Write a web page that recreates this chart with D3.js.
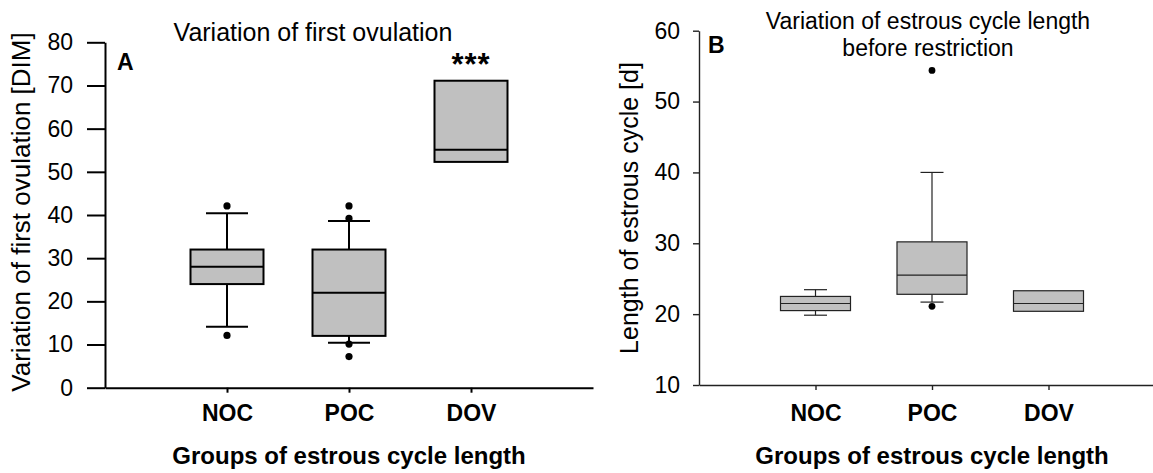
<!DOCTYPE html>
<html>
<head>
<meta charset="utf-8">
<script src="https://cdn.jsdelivr.net/npm/d3@7"></script>
<style>
    body { margin: 0; background: #fff; }
    svg text { font-family: Arial, "Liberation Sans", sans-serif; fill: #000; }
</style>
</head>
<body>
<div id="chart"></div>
<script>

// groups on the x axis (both panels)
const groups = ["NOC", "POC", "DOV"];

// panel A - variation of first ovulation [DIM]
const ovuQ1 = [24.0, 12.0, 52.3];
const ovuMedian = [28.0, 22.0, 55.1];
const ovuQ3 = [32.0, 32.0, 71.1];
const ovuLow = [14.1, 10.4, null];
const ovuHigh = [40.4, 38.6, null];
const ovuOutliers = [[12.1, 42.1], [42.1, 39.2, 10.1, 7.2], []];
const ovuTicks = [0, 10, 20, 30, 40, 50, 60, 70, 80];

// panel B - length of estrous cycle before restriction [d]
const cycQ1 = [20.5, 22.8, 20.4];
const cycMedian = [21.5, 25.5, 21.5];
const cycQ3 = [22.5, 30.2, 23.3];
const cycLow = [19.85, 21.7, null];
const cycHigh = [23.45, 40.0, null];
const cycOutliers = [[], [54.4, 21.1], []];
const cycTicks = [10, 20, 30, 40, 50, 60];


class BoxVis {

    constructor(svg, opts, q1, med, q3, low, high, outliers) {
        this.svg = svg;
        this.opts = opts;
        this.data = groups.map((g, i) => ({
            group: g, q1: q1[i], median: med[i], q3: q3[i],
            low: low[i], high: high[i], outliers: outliers[i]
        }));
        this.initVis();
    }

    initVis() {
        let vis = this;
        let o = vis.opts;

        vis.g = vis.svg.append("g");

        vis.yscale = d3.scaleLinear()
            .domain(o.yDomain)
            .range([o.bottom, o.top]);

        vis.xscale = d3.scalePoint()
            .domain(groups)
            .range([o.left, o.right])
            .padding(1);

        vis.yAxis = d3.axisLeft(vis.yscale)
            .tickValues(o.ticks)
            .tickSize(o.yTick)
            .tickSizeOuter(0)
            .tickPadding(o.yPad);

        vis.xAxis = d3.axisBottom(vis.xscale)
            .tickSize(5)
            .tickSizeOuter(0)
            .tickPadding(o.xPad);

        vis.xAxisGroup = vis.g.append("g")
            .attr("class", "axis x-axis")
            .attr("transform", `translate(0,${o.bottom})`)
            .call(vis.xAxis);
        vis.xAxisGroup.selectAll("text")
            .style("font-size", "23px")
            .style("font-weight", "bold");

        vis.yAxisGroup = vis.g.append("g")
            .attr("class", "axis y-axis")
            .attr("transform", `translate(${o.left},0)`)
            .call(vis.yAxis);
        vis.yAxisGroup.selectAll("text")
            .style("font-size", "23px");

        vis.g.selectAll(".axis path, .axis line")
            .attr("stroke", o.stroke)
            .attr("stroke-width", o.axisWidth);
        vis.g.selectAll(".axis").attr("font-family", null).attr("font-size", null);

        // titles
        vis.g.append("text")
            .attr("transform", `translate(${o.yLabelX},${o.yLabelY}) rotate(-90)`)
            .attr("text-anchor", "middle")
            .style("font-size", o.yLabelSize + "px")
            .text(o.yLabel);

        vis.g.append("text")
            .attr("x", vis.xscale("POC"))
            .attr("y", o.xLabelY)
            .attr("text-anchor", "middle")
            .style("font-size", "24px")
            .style("font-weight", "bold")
            .text("Groups of estrous cycle length");

        o.title.forEach((t, i) => {
            vis.g.append("text")
                .attr("x", o.titleX)
                .attr("y", o.titleY + i * 27)
                .attr("text-anchor", "middle")
                .style("font-size", o.titleSize + "px")
                .text(t);
        });

        vis.g.append("text")
            .attr("x", o.letterX)
            .attr("y", o.letterY)
            .style("font-size", "23px")
            .style("font-weight", "bold")
            .text(o.letter);

        vis.updateVis();
    }

    updateVis() {
        let vis = this;
        let o = vis.opts;
        let y = vis.yscale;

        let box = vis.g.selectAll(".box")
            .data(vis.data)
            .join("g")
            .attr("class", "box")
            .attr("transform", d => `translate(${vis.xscale(d.group)},0)`);

        // whiskers
        box.filter(d => d.high != null).append("line")
            .attr("x1", 0).attr("x2", 0)
            .attr("y1", d => y(d.q3)).attr("y2", d => y(d.high));
        box.filter(d => d.low != null).append("line")
            .attr("x1", 0).attr("x2", 0)
            .attr("y1", d => y(d.q1)).attr("y2", d => y(d.low));
        box.filter(d => d.high != null).append("line")
            .attr("x1", -o.capW / 2).attr("x2", o.capW / 2)
            .attr("y1", d => y(d.high)).attr("y2", d => y(d.high));
        box.filter(d => d.low != null).append("line")
            .attr("x1", -o.capW / 2).attr("x2", o.capW / 2)
            .attr("y1", d => y(d.low)).attr("y2", d => y(d.low));

        box.append("rect")
            .attr("x", -o.boxW / 2)
            .attr("width", o.boxW)
            .attr("y", d => y(d.q3))
            .attr("height", d => y(d.q1) - y(d.q3))
            .attr("fill", "#c0c0c0");

        box.append("line")
            .attr("x1", -o.boxW / 2).attr("x2", o.boxW / 2)
            .attr("y1", d => y(d.median)).attr("y2", d => y(d.median));

        box.selectAll("line, rect")
            .attr("stroke", o.stroke)
            .attr("stroke-width", o.lineWidth);

        box.selectAll(".dot")
            .data(d => d.outliers)
            .join("circle")
            .attr("class", "dot")
            .attr("cx", 0)
            .attr("cy", d => y(d))
            .attr("r", o.dotR)
            .attr("fill", "#000");
    }
}

let svg = d3.select("#chart").append("svg")
    .attr("width", 1153)
    .attr("height", 473);

let visA = new BoxVis(svg, {
    yDomain: [0, 80], ticks: ovuTicks,
    top: 42.3, bottom: 387.7, left: 105, right: 593,
    yTick: 18, yPad: 14, xPad: 12,
    stroke: "#000", axisWidth: 2, lineWidth: 2,
    boxW: 73, capW: 42, dotR: 3.6,
    yLabel: "Variation of first ovulation [DIM]", yLabelSize: 26, yLabelX: 30, yLabelY: 212,
    xLabelY: 464,
    title: ["Variation of first ovulation"], titleSize: 25, titleX: 313, titleY: 41,
    letter: "A", letterX: 117, letterY: 70
}, ovuQ1, ovuMedian, ovuQ3, ovuLow, ovuHigh, ovuOutliers);

let visB = new BoxVis(svg, {
    yDomain: [10, 60], ticks: cycTicks,
    top: 30.7, bottom: 385, left: 699, right: 1165,
    yTick: 6, yPad: 13, xPad: 14.7,
    stroke: "#222", axisWidth: 1.4, lineWidth: 1.2,
    boxW: 70, capW: 23, dotR: 3.4,
    yLabel: "Length of estrous cycle [d]", yLabelSize: 25, yLabelX: 638, yLabelY: 208,
    xLabelY: 464,
    title: ["Variation of estrous cycle length", "before restriction"], titleSize: 23, titleX: 928, titleY: 29,
    letter: "B", letterX: 708, letterY: 53
}, cycQ1, cycMedian, cycQ3, cycLow, cycHigh, cycOutliers);

// significance mark above DOV in panel A
svg.append("text")
    .attr("x", visA.xscale("DOV"))
    .attr("y", 75)
    .attr("text-anchor", "middle")
    .style("font-size", "31px")
    .style("font-weight", "bold")
    .style("letter-spacing", "1px")
    .text("***");

</script>
</body>
</html>
